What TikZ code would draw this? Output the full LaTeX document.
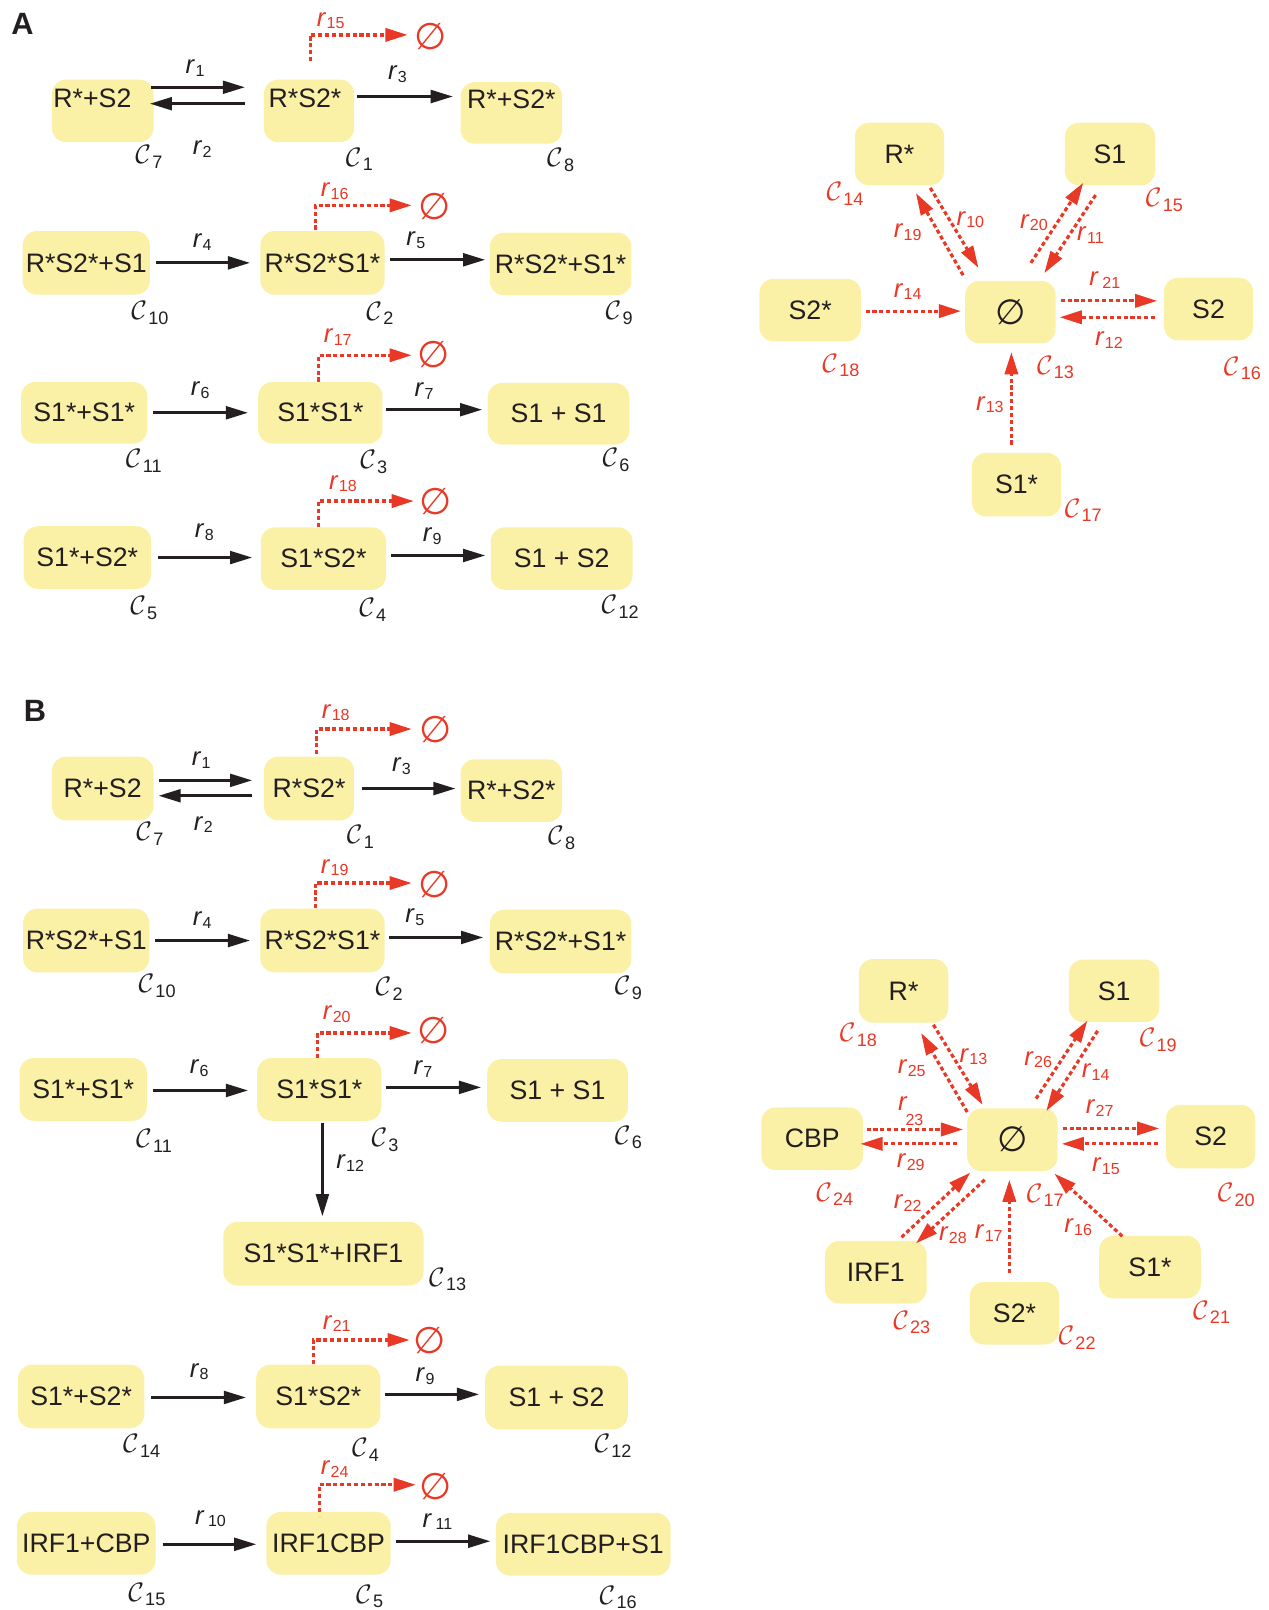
\RequirePackage{fix-cm}
\documentclass[tikz,border=0pt]{standalone}
\usepackage{fontspec}
\setmainfont{Liberation Sans}
\newfontfamily\djv{DejaVu Sans}
\usetikzlibrary{arrows.meta,calc}
\definecolor{boxy}{RGB}{250,240,166}
\definecolor{redd}{RGB}{232,56,38}
\definecolor{blk}{RGB}{35,31,32}
\newcommand\rlab[1]{\textit{r}\kern0.2pt\raisebox{-1.3pt}{\fontsize{7.8}{8}\selectfont#1}}
\newcommand\clab[1]{$\mathcal{C}$\kern0.6pt\raisebox{-2.2pt}{\fontsize{8.8}{9}\selectfont#1}}
\tikzset{
  box/.style={fill=boxy, rounded corners=7pt, inner sep=0pt, text=blk, font=\fontsize{13}{14}\selectfont},
  txt/.style={inner sep=0pt, text=blk, font=\fontsize{13}{14}\selectfont},
  arr/.style={draw=blk, line width=1.45pt, -{Triangle[length=10.8pt,width=6.2pt]}},
  rarr/.style={draw=redd, line width=1.55pt, dash pattern=on 2pt off 1.35pt, -{Triangle[length=10.8pt,width=6.4pt]}},
  rl/.style={inner sep=0pt, text=blk, font=\fontsize{12.5}{13}\selectfont},
  rr/.style={rl, text=redd},
  cl/.style={inner sep=0pt, text=blk, font=\fontsize{13}{14}\selectfont},
  cr/.style={cl, text=redd},
  nul/.style={inner sep=0pt, text=redd, font=\djv\fontsize{18}{19}\selectfont},
  nulb/.style={box, font=\djv\fontsize{17}{18}\selectfont},
  panel/.style={inner sep=0pt, text=blk, font=\bfseries\fontsize{15}{16}\selectfont}
}
\begin{document}
\begin{tikzpicture}[x=0.5pt,y=-0.5pt]
\useasboundingbox (0,0) rectangle (1235,1568);

% ---------------- Panel A ----------------
\node[panel] (labA) at (22,23) {A};

\node[box, minimum width=49.5pt, minimum height=30.5pt] (a7) at (100,108) {};
\node[txt] (a7t) at (90,96) {R*+S2};
\node[box, minimum width=44pt, minimum height=30.5pt] (a1) at (301,108) {};
\node[txt] (a1t) at (297,96) {R*S2*};
\node[box, minimum width=49.5pt, minimum height=30pt] (a8) at (498,110) {};
\node[txt] (a8t) at (498,97) {R*+S2*};

\node[box, minimum width=62pt, minimum height=31pt] (a10) at (84,256) {R*S2*+S1};
\node[box, minimum width=60.5pt, minimum height=31pt] (a2) at (314,256) {R*S2*S1*};
\node[box, minimum width=69pt, minimum height=30.5pt] (a9) at (546,257) {R*S2*+S1*};

\node[box, minimum width=61.5pt, minimum height=30pt] (a11) at (82,402) {S1*+S1*};
\node[box, minimum width=60.5pt, minimum height=30pt] (a3) at (312,402) {S1*S1*};
\node[box, minimum width=69pt, minimum height=30pt] (a6) at (544,403) {S1 + S1};

\node[box, minimum width=62pt, minimum height=30.5pt] (a5) at (85,543) {S1*+S2*};
\node[box, minimum width=61pt, minimum height=30.5pt] (a4) at (315,544) {S1*S2*};
\node[box, minimum width=69pt, minimum height=30.5pt] (a12) at (547,544) {S1 + S2};

% black arrows A
\draw[arr] ($(a7.east)+(-3,-23)$) -- ($(a1.west)+(-18,-23)$);
\draw[arr] ($(a1.west)+(-18,-7)$) -- ($(a7.east)+(-4,-7)$);
\draw[arr] ($(a1.east)+(2,-14)$) -- ($(a8.west)+(-7,-16)$);
\draw[arr] ($(a10.east)+(6,0)$) -- ($(a2.west)+(-9.5,0)$);
\draw[arr] ($(a2.east)+(4.5,-3)$) -- ($(a9.west)+(-4,-4)$);
\draw[arr] ($(a11.east)+(5.5,0)$) -- ($(a3.west)+(-9.5,0)$);
\draw[arr] ($(a3.east)+(3.5,-3)$) -- ($(a6.west)+(-5,-4)$);
\draw[arr] ($(a5.east)+(6,0)$) -- ($(a4.west)+(-8,-1)$);
\draw[arr] ($(a4.east)+(4,-3)$) -- ($(a12.west)+(-5,-3)$);

\node[rl] (ar1) at (190,66) {\rlab{1}};
\node[rl] (ar2) at (197,145) {\rlab{2}};
\node[rl] (ar3) at (387,72) {\rlab{3}};
\node[rl] (ar4) at (197,236) {\rlab{4}};
\node[rl] (ar5) at (405,234) {\rlab{5}};
\node[rl] (ar6) at (195,380) {\rlab{6}};
\node[rl] (ar7) at (413,381) {\rlab{7}};
\node[rl] (ar8) at (199,518) {\rlab{8}};
\node[rl] (ar9) at (421,522) {\rlab{9}};

% degradation A
\node[nul] (z15) at (419,36) {∅};
\node[nul] (z16) at (423,201) {∅};
\node[nul] (z17) at (422,345) {∅};
\node[nul] (z18) at (424,488) {∅};
\draw[rarr] ($(a1.north)+(1,-17.5)$) |- ($(z15)+(-22,-2)$);
\draw[rarr] ($(a2.north)+(-7,-1)$) |- ($(z16)+(-22,-1)$);
\draw[rarr] ($(a3.north)+(-2,0)$) |- ($(z17)+(-21,1)$);
\draw[rarr] ($(a4.north)+(-5,0)$) |- ($(z18)+(-21,0)$);
\node[rr] (ar15) at (322,20) {\rlab{15}};
\node[rr] (ar16) at (326,186) {\rlab{16}};
\node[rr] (ar17) at (329,328) {\rlab{17}};
\node[rr] (ar18) at (334,471) {\rlab{18}};

% C labels A
\node[cl] (ac7) at (145,153) {\clab{7}};
\node[cl] (ac1) at (350,155) {\clab{1}};
\node[cl] (ac8) at (546,156) {\clab{8}};
\node[cl] (ac10) at (146,305) {\clab{10}};
\node[cl] (ac2) at (370,305) {\clab{2}};
\node[cl] (ac9) at (603,305) {\clab{9}};
\node[cl] (ac11) at (140,449) {\clab{11}};
\node[cl] (ac3) at (364,450) {\clab{3}};
\node[cl] (ac6) at (600,448) {\clab{6}};
\node[cl] (ac5) at (140,592) {\clab{5}};
\node[cl] (ac4) at (363,594) {\clab{4}};
\node[cl] (ac12) at (604,591) {\clab{12}};

% star A
\node[box, minimum width=43.5pt, minimum height=30.5pt] (sR) at (876,150) {R*};
\node[box, minimum width=44pt, minimum height=30.5pt] (sS1) at (1081,150) {S1};
\node[box, minimum width=49.5pt, minimum height=30.5pt] (sS2s) at (789,302) {S2*};
\node[nulb, minimum width=44pt, minimum height=30.5pt] (s0) at (984,304) {∅};
\node[box, minimum width=43.5pt, minimum height=30.5pt] (sS2) at (1177,301) {S2};
\node[box, minimum width=43.5pt, minimum height=31pt] (sS1s) at (990,472) {S1*};

\draw[rarr] ($(s0)+(-46,-36)$) -- ($(sR)+(16,38)$);
\draw[rarr] ($(sR)+(30,33)$) -- ($(s0)+(-31,-43)$);
\draw[rarr] ($(s0)+(20,-48)$) -- ($(sS1)+(-26,28)$);
\draw[rarr] ($(sS1)+(-14,40)$) -- ($(s0)+(33,-38)$);
\draw[rarr] ($(sS2s)+(54,1)$) -- ($(s0)+(-48,-1)$);
\draw[rarr] ($(s0)+(49,-11)$) -- ($(sS2)+(-50,-8)$);
\draw[rarr] ($(sS2)+(-52,8)$) -- ($(s0)+(48,5)$);
\draw[rarr] ($(sS1s)+(-5,-39)$) -- ($(s0)+(1,39)$);

\node[rr] (sr19) at (884,226) {\rlab{19}};
\node[rr] (sr10) at (945,214) {\rlab{10}};
\node[rr] (sr20) at (1007,217) {\rlab{20}};
\node[rr] (sr11) at (1062,229) {\rlab{11}};
\node[rr] (sr21) at (1076,273) {\rlab{\kern1.5pt21}};
\node[rr] (sr14) at (884,284) {\rlab{14}};
\node[rr] (sr12) at (1080,331) {\rlab{12}};
\node[rr] (sr13) at (964,394) {\rlab{13}};

\node[cr] (sc14) at (823,189) {\clab{14}};
\node[cr] (sc15) at (1134,195) {\clab{15}};
\node[cr] (sc18) at (819,356) {\clab{18}};
\node[cr] (sc13) at (1028,358) {\clab{13}};
\node[cr] (sc16) at (1210,359) {\clab{16}};
\node[cr] (sc17) at (1055,497) {\clab{17}};

% ---------------- Panel B ----------------
\node[panel] (labB) at (34,692) {B};

\node[box, minimum width=49.5pt, minimum height=31pt] (b7) at (100,768) {R*+S2};
\node[box, minimum width=44pt, minimum height=31pt] (b1) at (301,768) {R*S2*};
\node[box, minimum width=49.5pt, minimum height=30.5pt] (b8) at (498,770) {R*+S2*};

\node[box, minimum width=61.5pt, minimum height=31pt] (b10) at (84,916) {R*S2*+S1};
\node[box, minimum width=60.5pt, minimum height=31pt] (b2) at (314,916) {R*S2*S1*};
\node[box, minimum width=69pt, minimum height=31pt] (b9) at (546,917) {R*S2*+S1*};

\node[box, minimum width=62pt, minimum height=30.5pt] (b11) at (81,1061) {S1*+S1*};
\node[box, minimum width=60.5pt, minimum height=30.5pt] (b3) at (311,1061) {S1*S1*};
\node[box, minimum width=68.5pt, minimum height=30.5pt] (b6) at (543,1062) {S1 + S1};
\node[box, minimum width=97.5pt, minimum height=31pt] (b13) at (315,1221) {S1*S1*+IRF1};

\node[box, minimum width=61.5pt, minimum height=31pt] (b14) at (79,1360) {S1*+S2*};
\node[box, minimum width=60.5pt, minimum height=31pt] (b4) at (310,1360) {S1*S2*};
\node[box, minimum width=69.5pt, minimum height=31pt] (b12) at (542,1361) {S1 + S2};

\node[box, minimum width=67.5pt, minimum height=30.5pt] (b15) at (84,1503) {IRF1+CBP};
\node[box, minimum width=60.5pt, minimum height=30.5pt] (b5) at (320,1503) {IRF1CBP};
\node[box, minimum width=85pt, minimum height=30.5pt] (b16) at (568,1504) {IRF1CBP+S1};

% black arrows B
\draw[arr] ($(b7.east)+(4.5,-8)$) -- ($(b1.west)+(-11,-8)$);
\draw[arr] ($(b1.west)+(-11,7)$) -- ($(b7.east)+(4.5,7)$);
\draw[arr] ($(b1.east)+(7,0)$) -- ($(b8.west)+(-4.5,-2)$);
\draw[arr] ($(b10.east)+(5.5,0)$) -- ($(b2.west)+(-9.5,0)$);
\draw[arr] ($(b2.east)+(3.5,-3)$) -- ($(b9.west)+(-6,-4)$);
\draw[arr] ($(b11.east)+(6,1)$) -- ($(b3.west)+(-8.5,1)$);
\draw[arr] ($(b3.east)+(4.5,-2)$) -- ($(b6.west)+(-5.5,-3)$);
\draw[arr] ($(b3.south)+(3,1.5)$) -- ($(b13.north)+(-1,-5)$);
\draw[arr] ($(b14.east)+(6.5,1)$) -- ($(b4.west)+(-9.5,1)$);
\draw[arr] ($(b4.east)+(4.5,-2)$) -- ($(b12.west)+(-5.5,-3)$);
\draw[arr] ($(b15.east)+(6.5,1)$) -- ($(b5.west)+(-9.5,1)$);
\draw[arr] ($(b5.east)+(4.5,-2)$) -- ($(b16.west)+(-5,-3)$);

\node[rl] (br1) at (196,740) {\rlab{1}};
\node[rl] (br2) at (198,803) {\rlab{2}};
\node[rl] (br3) at (391,746) {\rlab{3}};
\node[rl] (br4) at (197,896) {\rlab{4}};
\node[rl] (br5) at (404,893) {\rlab{5}};
\node[rl] (br6) at (194,1040) {\rlab{6}};
\node[rl] (br7) at (412,1041) {\rlab{7}};
\node[rl] (br12) at (341,1133) {\rlab{12}};
\node[rl] (br8) at (194,1336) {\rlab{8}};
\node[rl] (br9) at (414,1340) {\rlab{9}};
\node[rl] (br10) at (205,1479) {\rlab{\kern1.5pt10}};
\node[rl] (br11) at (426,1482) {\rlab{\kern1.5pt11}};

% degradation B
\node[nul] (y18) at (424,711) {∅};
\node[nul] (y19) at (423,861) {∅};
\node[nul] (y20) at (422,1004) {∅};
\node[nul] (y21) at (418,1306) {∅};
\node[nul] (y24) at (424,1448) {∅};
\draw[rarr] ($(b1.north)+(7,-2)$) |- ($(y18)+(-23,-1)$);
\draw[rarr] ($(b2.north)+(-7,0)$) |- ($(y19)+(-22,-1)$);
\draw[rarr] ($(b3.north)+(-2,0.5)$) |- ($(y20)+(-21,2)$);
\draw[rarr] ($(b4.north)+(-5,0)$) |- ($(y21)+(-19,-1)$);
\draw[rarr] ($(b5.north)+(-9,0.5)$) |- ($(y24)+(-19,-2)$);
\node[rr] (br18) at (327,694) {\rlab{18}};
\node[rr] (br19) at (326,845) {\rlab{19}};
\node[rr] (br20) at (328,988) {\rlab{20}};
\node[rr] (br21) at (328,1289) {\rlab{21}};
\node[rr] (br24) at (326,1431) {\rlab{24}};

% C labels B
\node[cl] (bc7) at (146,812) {\clab{7}};
\node[cl] (bc1) at (351,815) {\clab{1}};
\node[cl] (bc8) at (547,816) {\clab{8}};
\node[cl] (bc10) at (153,960) {\clab{10}};
\node[cl] (bc2) at (379,963) {\clab{2}};
\node[cl] (bc9) at (612,962) {\clab{9}};
\node[cl] (bc11) at (150,1111) {\clab{11}};
\node[cl] (bc3) at (375,1110) {\clab{3}};
\node[cl] (bc6) at (612,1108) {\clab{6}};
\node[cl] (bc13) at (436,1246) {\clab{13}};
\node[cl] (bc14) at (138,1408) {\clab{14}};
\node[cl] (bc4) at (356,1412) {\clab{4}};
\node[cl] (bc12) at (597,1408) {\clab{12}};
\node[cl] (bc15) at (143,1553) {\clab{15}};
\node[cl] (bc5) at (360,1555) {\clab{5}};
\node[cl] (bc16) at (602,1556) {\clab{16}};

% star B
\node[box, minimum width=43.5pt, minimum height=31pt] (tR) at (880,965) {R*};
\node[box, minimum width=44pt, minimum height=30.5pt] (tS1) at (1085,965) {S1};
\node[box, minimum width=49.5pt, minimum height=30.5pt] (tCBP) at (791,1109) {CBP};
\node[nulb, minimum width=44pt, minimum height=30.5pt] (t0) at (986,1110) {∅};
\node[box, minimum width=43.5pt, minimum height=31pt] (tS2) at (1179,1107) {S2};
\node[box, minimum width=49.5pt, minimum height=30.5pt] (tIRF) at (853,1239) {IRF1};
\node[box, minimum width=43.5pt, minimum height=30.5pt] (tS2s) at (988,1279) {S2*};
\node[box, minimum width=49.5pt, minimum height=30.5pt] (tS1s) at (1120,1234) {S1*};

\draw[rarr] ($(t0)+(-44,-27)$) -- ($(tR)+(17,41)$);
\draw[rarr] ($(tR)+(29,33)$) -- ($(t0)+(-29,-34)$);
\draw[rarr] ($(t0)+(23,-40)$) -- ($(tS1)+(-26,29)$);
\draw[rarr] ($(tS1)+(-16,39)$) -- ($(t0)+(33,-28)$);
\draw[rarr] ($(tCBP)+(53,-9)$) -- ($(t0)+(-48,-10)$);
\draw[rarr] ($(t0)+(-54,4)$) -- ($(tCBP)+(47,5)$);
\draw[rarr] ($(t0)+(49,-11)$) -- ($(tS2)+(-50,-8)$);
\draw[rarr] ($(tS2)+(-51,7)$) -- ($(t0)+(48,4)$);
\draw[rarr] ($(tIRF)+(25,-34)$) -- ($(t0)+(-41,32)$);
\draw[rarr] ($(t0)+(-27,39)$) -- ($(tIRF)+(39,-28)$);
\draw[rarr] ($(tS2s)+(-5,-39)$) -- ($(t0)+(-3,39)$);
\draw[rarr] ($(tS1s)+(-27,-30)$) -- ($(t0)+(41,33)$);

\node[rr] (tr25) at (888,1040) {\rlab{25}};
\node[rr] (tr13) at (948,1029) {\rlab{13}};
\node[rr] (tr26) at (1011,1032) {\rlab{26}};
\node[rr] (tr14) at (1067,1044) {\rlab{14}};
\node[rr] (tr23) at (887,1082) {\textit{r}\kern-1pt\raisebox{-7pt}{\fontsize{7.8}{8}\selectfont 23}};
\node[rr] (tr29) at (887,1132) {\rlab{29}};
\node[rr] (tr27) at (1071,1079) {\rlab{27}};
\node[rr] (tr15) at (1077,1136) {\rlab{15}};
\node[rr] (tr22) at (884,1172) {\rlab{22}};
\node[rr] (tr28) at (928,1203) {\rlab{28}};
\node[rr] (tr17) at (963,1201) {\rlab{17}};
\node[rr] (tr16) at (1050,1195) {\rlab{16}};

\node[cr] (tc18) at (836,1008) {\clab{18}};
\node[cr] (tc19) at (1128,1013) {\clab{19}};
\node[cr] (tc24) at (813,1163) {\clab{24}};
\node[cr] (tc20) at (1204,1164) {\clab{20}};
\node[cr] (tc17) at (1018,1164) {\clab{17}};
\node[cr] (tc23) at (888,1288) {\clab{23}};
\node[cr] (tc22) at (1049,1303) {\clab{22}};
\node[cr] (tc21) at (1180,1278) {\clab{21}};
\end{tikzpicture}
\end{document}
